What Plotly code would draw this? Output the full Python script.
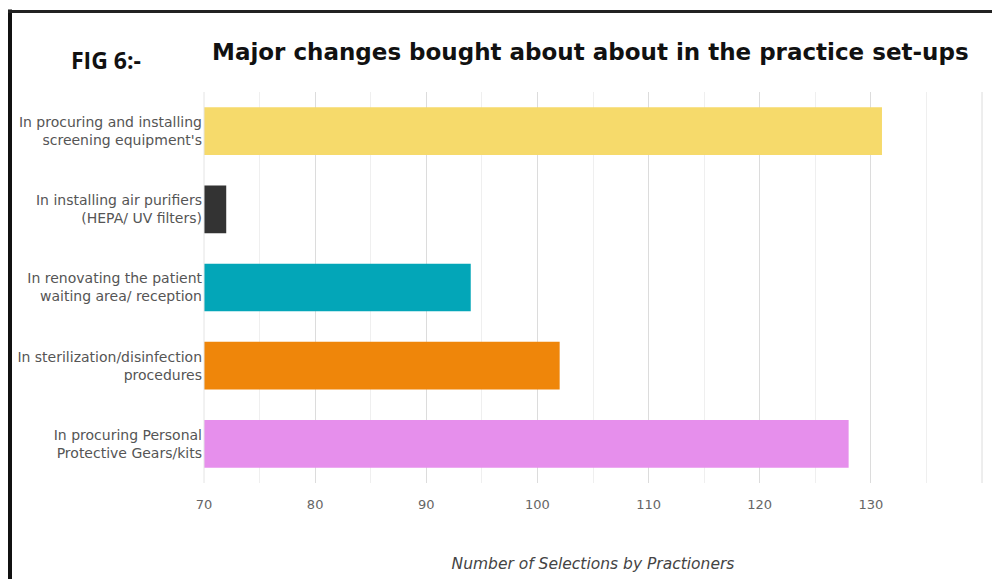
import plotly.graph_objects as go

categories = [
    "In procuring and installing<br>screening equipment's",
    "In installing air purifiers<br>(HEPA/ UV filters)",
    "In renovating the patient<br>waiting area/ reception",
    "In sterilization/disinfection<br>procedures",
    "In procuring Personal<br>Protective Gears/kits",
]
values = [131, 72, 94, 102, 128]
colors = ["#F6DA6B", "#333333", "#03A6B8", "#EF860A", "#E68FEC"]
x_ticks = [70, 80, 90, 100, 110, 120, 130, 140]

W, H = 992, 579
ML, MR, MT, MB = 204, 10, 92, 94
PW, PH = W - ML - MR, H - MT - MB

def px(xp):
    return (xp - ML) / PW

def py(yp):
    return (H - MB - yp) / PH

fig = go.Figure(go.Bar(
    x=values, y=categories, orientation="h",
    marker=dict(color=colors, line=dict(width=0)),
))

fig.update_layout(
    width=W, height=H,
    margin=dict(l=ML, r=MR, t=MT, b=MB),
    paper_bgcolor="white", plot_bgcolor="white",
    bargap=0.39,
    showlegend=False,
    font=dict(family="DejaVu Sans, sans-serif", color="#555"),
    xaxis=dict(
        range=[70, 140], tickvals=x_ticks, ticktext=[str(t) for t in x_ticks],
        showgrid=True, gridcolor="#dcdcdc", gridwidth=1,
        minor=dict(dtick=5, showgrid=True, gridcolor="#efefef", gridwidth=1),
        zeroline=False, showline=False,
        ticks="outside", ticklen=9, tickcolor="rgba(0,0,0,0)",
        tickfont=dict(size=13, color="#666"),
        title=dict(text="<i>Number of Selections by Practioners</i>",
                   font=dict(size=15.5, color="#444"), standoff=47),
        fixedrange=True,
    ),
    yaxis=dict(
        categoryorder="array", categoryarray=categories,
        autorange="reversed",
        showgrid=False, zeroline=False, showline=False, ticks="",
        tickfont=dict(size=14, color="#555"),
        ticklabelstandoff=1,
    ),
    shapes=[
        dict(type="line", xref="paper", yref="paper",
             x0=px(10), x1=px(10), y0=py(9), y1=py(H + 5),
             line=dict(color="#111", width=4)),
        dict(type="line", xref="paper", yref="paper",
             x0=px(8), x1=px(W + 5), y0=py(11), y1=py(11),
             line=dict(color="#222", width=3)),
        dict(type="line", xref="paper", yref="paper",
             x0=0, x1=0, y0=0, y1=1,
             line=dict(color="#e4e4e4", width=1)),
        dict(type="line", xref="paper", yref="paper",
             x0=1, x1=1, y0=0, y1=1,
             line=dict(color="#dcdcdc", width=1)),
    ],
    annotations=[
        dict(text="<b>Major changes bought about about in the practice set-ups</b>",
             xref="paper", yref="paper", x=px(590), y=py(52),
             xanchor="center", yanchor="middle", showarrow=False,
             font=dict(size=23, color="#111", family="DejaVu Sans, sans-serif")),
        dict(text="<b>FIG 6:-</b>",
             xref="paper", yref="paper", x=px(69), y=py(60),
             xanchor="left", yanchor="middle", showarrow=False,
             font=dict(size=23, color="#111", family="Open Sans, sans-serif")),
    ],
)

fig.write_html("out.html", config={"displayModeBar": False},
               post_script="document.body.style.margin='0';document.body.style.overflow='hidden';")
